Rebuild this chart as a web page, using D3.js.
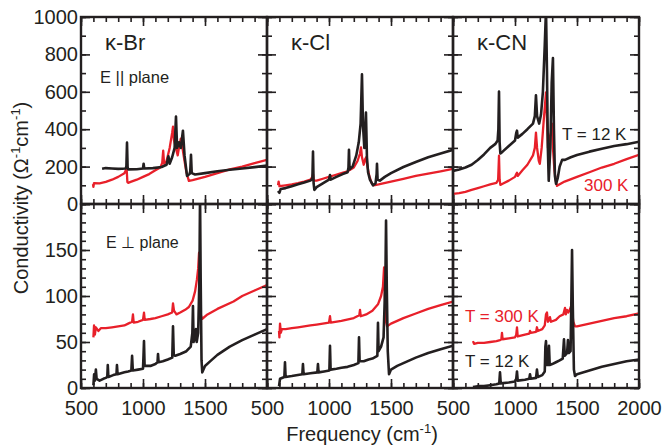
<!DOCTYPE html>
<html>
<head>
<meta charset="utf-8">
<script src="https://cdn.jsdelivr.net/npm/d3@7"></script>
<style>
  html, body { margin: 0; padding: 0; background: #fff; }
  svg { display: block; font-family: Arial, "Liberation Sans", Helvetica, sans-serif; }
</style>
</head>
<body>
<svg id="chart" width="664" height="447"></svg>
<script>
// ---- Optical conductivity spectra, [frequency (cm^-1), sigma (Ohm^-1 cm^-1)] ----
// E parallel to the conducting plane
const brPlane300K = [[597,107],[600,92],[605,112],[650,110],[700,118],[750,130],[800,145],[850,165],[868,190],[874,118],[880,113],[900,118],[950,130],[1000,145],[1050,160],[1100,180],[1140,195],[1155,220],[1163,285],[1170,215],[1190,230],[1215,300],[1235,380],[1242,414],[1250,340],[1265,300],[1280,260],[1295,320],[1305,350],[1318,300],[1335,230],[1350,170],[1370,124],[1400,128],[1500,145],[1600,165],[1700,185],[1800,200],[1900,218],[2000,236]];
const brPlane12K  = [[670,188],[700,192],[750,190],[800,188],[860,190],[866,200],[871,328],[876,195],[882,185],[950,186],[1000,190],[1005,215],[1010,190],[1080,192],[1150,198],[1190,210],[1205,255],[1215,215],[1235,250],[1255,300],[1266,468],[1275,300],[1290,330],[1305,300],[1322,392],[1335,260],[1355,150],[1375,160],[1381,175],[1387,263],[1393,165],[1420,158],[1500,165],[1600,175],[1700,183],[1800,190],[1900,197],[2000,205]];
const clPlane300K = [[589,100],[594,120],[600,95],[650,100],[700,105],[750,112],[800,120],[850,130],[866,145],[871,160],[876,125],[900,125],[950,135],[1000,145],[1050,155],[1100,165],[1150,175],[1200,195],[1230,230],[1250,270],[1258,303],[1266,250],[1280,210],[1292,240],[1300,250],[1310,200],[1325,150],[1345,110],[1360,100],[1400,105],[1500,120],[1600,135],[1700,150],[1800,163],[1900,175],[2000,188]];
const clPlane12K  = [[589,70],[600,60],[610,80],[650,85],[700,95],[750,105],[800,115],[850,125],[866,135],[871,280],[876,110],[882,75],[900,90],[950,110],[1000,130],[1008,155],[1014,130],[1060,145],[1110,160],[1150,170],[1157,195],[1161,290],[1166,185],[1190,200],[1220,260],[1240,330],[1255,430],[1266,693],[1274,420],[1285,300],[1298,489],[1306,250],[1315,170],[1330,130],[1355,100],[1375,110],[1384,160],[1387,215],[1392,130],[1410,125],[1450,145],[1500,165],[1600,198],[1700,225],[1800,250],[1900,270],[2000,290]];
const cnPlane300K = [[500,54],[550,58],[600,65],[650,75],[700,85],[750,95],[800,105],[850,113],[864,130],[871,258],[876,130],[882,102],[900,108],[950,125],[1000,145],[1010,160],[1016,167],[1022,150],[1060,180],[1100,210],[1145,260],[1160,300],[1169,382],[1178,300],[1192,230],[1200,215],[1215,300],[1232,450],[1250,597],[1258,450],[1266,300],[1272,339],[1290,380],[1298,430],[1306,300],[1318,180],[1330,120],[1339,97],[1360,105],[1400,120],[1500,145],[1600,170],[1700,195],[1800,215],[1900,240],[2000,263]];
const cnPlane12K  = [[500,177],[550,185],[600,195],[650,210],[700,235],[750,265],[800,300],[840,320],[860,340],[866,400],[871,602],[876,330],[882,270],[900,280],[950,310],[1000,340],[1010,380],[1016,392],[1022,355],[1060,375],[1100,400],[1145,430],[1160,470],[1169,581],[1178,470],[1195,430],[1210,480],[1225,600],[1240,850],[1250,1040],[1258,700],[1265,300],[1272,124],[1285,300],[1296,650],[1306,780],[1314,400],[1322,150],[1331,108],[1345,140],[1360,200],[1380,236],[1403,236],[1450,250],[1500,262],[1600,280],[1700,295],[1800,310],[1900,320],[2000,333]];

// E perpendicular to the conducting plane
const brPerp300K = [[600,55],[605,68],[612,58],[620,66],[640,62],[660,65],[700,65],[750,66],[800,67],[850,68],[880,70],[912,72],[919,80],[925,71],[960,72],[1000,74],[1008,82],[1014,74],[1060,75],[1100,76],[1150,78],[1200,80],[1235,82],[1242,92],[1250,84],[1270,80],[1300,82],[1340,85],[1370,88],[1400,95],[1420,105],[1435,118],[1445,130],[1452,147],[1458,110],[1465,80],[1476,75],[1520,80],[1600,86],[1730,94],[1800,100],[1900,106],[2000,112]];
const brPerp12K  = [[600,3],[606,15],[612,8],[620,20],[626,10],[650,8],[680,10],[700,11],[712,12],[716,25],[721,12],[760,14],[786,15],[790,25],[795,15],[850,17],[880,18],[906,19],[912,35],[918,19],[960,20],[1000,21],[1004,35],[1008,51],[1013,24],[1060,24],[1100,26],[1117,28],[1121,37],[1126,28],[1160,29],[1200,31],[1236,33],[1242,67],[1248,36],[1260,35],[1300,37],[1350,40],[1385,45],[1398,60],[1403,89],[1408,50],[1420,55],[1427,64],[1433,50],[1445,60],[1455,120],[1460,210],[1465,120],[1472,30],[1478,17],[1500,24],[1550,30],[1600,36],[1700,45],[1800,52],[1900,58],[2000,64]];
const clPerp300K = [[597,62],[600,55],[605,70],[612,60],[620,64],[650,64],[700,65],[750,66],[800,67],[850,68],[900,69],[950,70],[1000,71],[1008,78],[1014,71],[1100,73],[1200,76],[1244,79],[1250,85],[1256,78],[1300,80],[1350,84],[1395,91],[1420,100],[1435,110],[1444,131],[1450,100],[1460,72],[1468,67],[1500,70],[1600,76],[1700,81],[1800,86],[1900,90],[2000,94]];
const clPerp12K  = [[597,2],[605,10],[640,12],[645,28],[650,12],[700,13],[785,15],[790,26],[795,15],[850,16],[906,17],[911,26],[916,17],[960,18],[1003,19],[1008,46],[1013,20],[1060,21],[1100,22],[1150,23],[1200,25],[1237,27],[1242,55],[1247,29],[1280,29],[1320,31],[1350,32],[1390,35],[1395,71],[1400,40],[1420,45],[1440,55],[1455,120],[1460,182],[1466,110],[1474,40],[1484,15],[1500,20],[1550,24],[1600,27],[1700,33],[1800,38],[1900,42],[2000,46]];
const cnPerp300K = [[661,51],[670,48],[700,49],[750,49],[800,50],[850,51],[880,52],[890,53],[895,60],[900,53],[950,54],[1000,55],[1010,58],[1016,66],[1022,56],[1080,58],[1115,59],[1121,62],[1127,60],[1170,61],[1177,66],[1184,62],[1220,64],[1240,68],[1250,80],[1258,82],[1265,72],[1275,74],[1282,77],[1290,72],[1330,74],[1360,78],[1390,80],[1403,87],[1410,80],[1419,85],[1430,82],[1445,86],[1455,90],[1470,72],[1484,67],[1500,67],[1600,70],[1700,73],[1800,76],[1900,78],[2000,81]];
const cnPerp12K  = [[661,1],[700,2],[750,2],[800,3],[850,4],[873,5],[879,17],[885,5],[950,6],[1000,7],[1010,10],[1016,18],[1022,8],[1080,9],[1115,10],[1121,15],[1127,10],[1170,11],[1177,20],[1184,12],[1220,14],[1240,18],[1245,45],[1250,51],[1256,25],[1265,25],[1274,46],[1280,25],[1300,26],[1330,28],[1360,30],[1385,32],[1395,53],[1402,35],[1420,38],[1427,52],[1434,38],[1448,40],[1455,100],[1460,150],[1466,90],[1475,20],[1484,13],[1500,15],[1600,19],[1700,23],[1800,26],[1900,29],[2000,31]];

// Axis ranges and tick labels
const compounds   = ["κ-Br", "κ-Cl", "κ-CN"];
const freqDomain  = [500, 2000];
const freqLabels  = [500, 1000, 1500, 2000];
const planeDomain = [0, 1000];
const planeLabels = [0, 200, 400, 600, 800, 1000];
const perpDomain  = [0, 200];
const perpLabels  = [0, 50, 100, 150];

const RED = "#e8202a", BLACK = "#231f20";

const svg = d3.select("#chart");
const plotLeft = 81, plotTop = 17, W = 186, Htop = 187, Hbot = 184;
const rowTop = [plotTop, plotTop + Htop];
const rowH = [Htop, Hbot];

const panels = [
  { row: 0, col: 0, hot: brPlane300K, cold: brPlane12K },
  { row: 0, col: 1, hot: clPlane300K, cold: clPlane12K },
  { row: 0, col: 2, hot: cnPlane300K, cold: cnPlane12K },
  { row: 1, col: 0, hot: brPerp300K,  cold: brPerp12K },
  { row: 1, col: 1, hot: clPerp300K,  cold: clPerp12K },
  { row: 1, col: 2, hot: cnPerp300K,  cold: cnPerp12K }
];

const fmt = d => String(d);

panels.forEach((p, i) => {
  const x0 = plotLeft + p.col * W, y0 = rowTop[p.row], h = rowH[p.row];
  const x = d3.scaleLinear().domain(freqDomain).range([x0, x0 + W]);
  const y = d3.scaleLinear().domain(p.row === 0 ? planeDomain : perpDomain).range([y0 + h, y0]);
  const yMajorStep = p.row === 0 ? 200 : 50;
  const yMinorStep = p.row === 0 ? 100 : 10;
  const yMinor = d3.range(y.domain()[0], y.domain()[1] + 1e-9, yMinorStep);
  const yMaj = d3.range(y.domain()[0], y.domain()[1] + 1e-9, yMajorStep);
  const xMinor = d3.range(500, 2001, 100);
  const xMaj = d3.range(500, 2001, 500);

  const g = svg.append("g");

  // curves, clipped to the panel frame
  const clipId = "clip" + i;
  svg.append("clipPath").attr("id", clipId)
    .append("rect").attr("x", x0).attr("y", y0).attr("width", W).attr("height", h);
  const line = d3.line().x(d => x(d[0])).y(d => y(d[1]));
  const curves = g.append("g").attr("clip-path", `url(#${clipId})`);
  curves.append("path").datum(p.hot).attr("d", line)
    .attr("fill", "none").attr("stroke", RED).attr("stroke-width", 2.3).attr("stroke-linejoin", "round");
  curves.append("path").datum(p.cold).attr("d", line)
    .attr("fill", "none").attr("stroke", BLACK).attr("stroke-width", 2.6).attr("stroke-linejoin", "round");

  // inward ticks on all four sides
  const tickStyle = sel => {
    sel.select(".domain").remove();
    sel.selectAll(".tick line").attr("stroke", BLACK).attr("stroke-width", 1.6);
  };
  const addAxis = (gen, tx, ty) => g.append("g").attr("transform", `translate(${tx},${ty})`).call(gen).call(tickStyle);

  addAxis(d3.axisBottom(x).tickValues(xMinor).tickSize(-5).tickFormat(""), 0, y0 + h);
  addAxis(d3.axisTop(x).tickValues(xMinor).tickSize(-5).tickFormat(""), 0, y0);
  addAxis(d3.axisLeft(y).tickValues(yMinor).tickSize(-5).tickFormat(""), x0, 0);
  addAxis(d3.axisRight(y).tickValues(yMinor).tickSize(-5).tickFormat(""), x0 + W, 0);

  const showX = p.row === 1;
  const xLab = p.col === 2 ? freqLabels : freqLabels.slice(0, 3);
  const bx = addAxis(d3.axisBottom(x).tickValues(xMaj).tickSize(-9).tickPadding(13)
      .tickFormat(d => (showX && xLab.includes(d)) ? fmt(d) : ""), 0, y0 + h);
  addAxis(d3.axisTop(x).tickValues(xMaj).tickSize(-9).tickFormat(""), 0, y0);
  const showY = p.col === 0;
  const yLab = p.row === 0 ? planeLabels : perpLabels;
  const ly = addAxis(d3.axisLeft(y).tickValues(yMaj).tickSize(-9).tickPadding(3)
      .tickFormat(d => (showY && yLab.includes(d)) ? fmt(d) : ""), x0, 0);
  addAxis(d3.axisRight(y).tickValues(yMaj).tickSize(-9).tickFormat(""), x0 + W, 0);

  [bx, ly].forEach(a => a.selectAll("text")
    .attr("fill", BLACK).style("font-size", "20px")
    .style("font-family", "Arial, 'Liberation Sans', Helvetica, sans-serif"));

  // frame
  g.append("rect").attr("x", x0).attr("y", y0).attr("width", W).attr("height", h)
    .attr("fill", "none").attr("stroke", BLACK).attr("stroke-width", 2.4);

  if (p.row === 0) {
    g.append("text").attr("x", x0 + 24).attr("y", y0 + 33)
      .attr("fill", BLACK).style("font-size", "22px").text(compounds[p.col]);
  }
});

// annotations
const ann = svg.append("g").attr("fill", BLACK);
ann.append("text").attr("x", 100).attr("y", 83).style("font-size", "16.5px").text("E || plane");
ann.append("text").attr("x", 106).attr("y", 248).style("font-size", "16px").text("E ⊥ plane");
ann.append("text").attr("x", 562).attr("y", 140).style("font-size", "17px").text("T = 12 K");
ann.append("text").attr("x", 584).attr("y", 191).style("font-size", "17px").attr("fill", RED).text("300 K");
ann.append("text").attr("x", 465).attr("y", 322).style("font-size", "17px").attr("fill", RED).text("T = 300 K");
ann.append("text").attr("x", 465).attr("y", 367).style("font-size", "17px").text("T = 12 K");

// axis titles
const xt = svg.append("text").attr("x", 362).attr("y", 441).attr("text-anchor", "middle")
  .attr("fill", BLACK).style("font-size", "20px");
xt.append("tspan").text("Frequency (cm");
xt.append("tspan").attr("dy", -8).style("font-size", "13px").text("-1");
xt.append("tspan").attr("dy", 8).text(")");

const yt = svg.append("text").attr("transform", "translate(28,198) rotate(-90)")
  .attr("text-anchor", "middle").attr("fill", BLACK).style("font-size", "20px");
yt.append("tspan").text("Conductivity (Ω");
yt.append("tspan").attr("dy", -8).style("font-size", "13px").text("-1");
yt.append("tspan").attr("dy", 8).text("cm");
yt.append("tspan").attr("dy", -8).style("font-size", "13px").text("-1");
yt.append("tspan").attr("dy", 8).text(")");
</script>
</body>
</html>
